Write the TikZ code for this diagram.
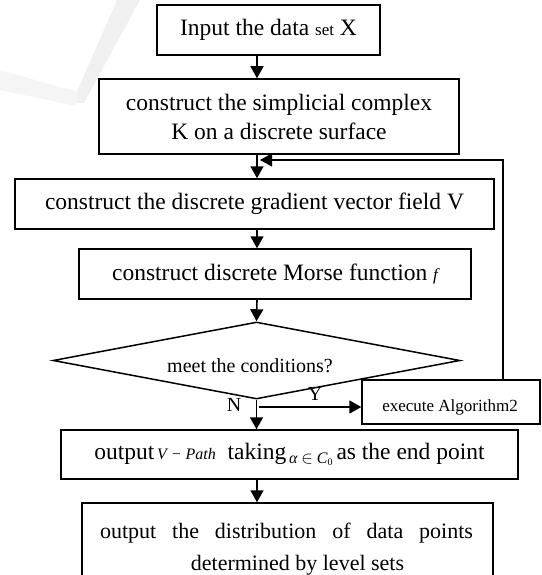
\documentclass[tikz,border=0pt]{standalone}
\usepackage{fontspec}
\setmainfont{Liberation Serif}
\usetikzlibrary{arrows.meta,shapes.geometric}

\tikzset{
  box/.style={draw, line width=1.5pt, inner sep=0pt, align=center,
    font=\fontsize{23.5}{29}\selectfont},
  plain/.style={inner sep=0pt, align=center, font=\fontsize{23.5}{29}\selectfont},
  arr/.style={line width=1.6pt, -{Triangle[length=12pt,width=13pt]}},
  fback/.style={line width=1.3pt, -{Triangle[length=12pt,width=13pt]}}
}

\begin{document}
\begin{tikzpicture}[x=1pt,y=-1pt]
\useasboundingbox (0,0) rectangle (541,575);
\clip (0,0) rectangle (541,575);

% faint check-mark logo in the background
\fill[black!6] (117,0) -- (140,0) -- (84,103) -- (72,103) -- cycle;
\fill[black!4] (0,70) -- (78,92) -- (76,106) -- (0,90) -- cycle;

% process boxes
\node[box, minimum width=223pt, minimum height=50pt] (b1) at (268.5,30)
  {Input the data {\fontsize{17}{20}\selectfont set} X};
\node[box, minimum width=360pt, minimum height=75pt] (b2) at (279,116.5)
  {construct the simplicial complex\\K on a discrete surface};
\node[box, minimum width=479pt, minimum height=50pt] (b3) at (254.5,204)
  {construct the discrete gradient vector field V};
\node[box, minimum width=392pt, minimum height=50pt] (b4) at (275,274)
  {construct discrete Morse function {\fontsize{17}{20}\selectfont\itshape f}};

% decision
\node[diamond, draw, line width=1.5pt, inner sep=0pt, aspect=5.3,
  minimum width=407pt, minimum height=77pt] (d) at (256.5,360.5) {};
\node[plain, font=\fontsize{20}{24}\selectfont] (dt) at (250,366) {meet the conditions?};

% side box
\node[draw, line width=1.3pt, inner sep=0pt, minimum width=178pt, minimum height=44pt]
  (ex) at (451,402) {};
\node[plain, font=\fontsize{17}{20}\selectfont] (ext) at (450,407) {execute Algorithm2};

% output boxes
\node[box, minimum width=457pt, minimum height=49pt] (b5) at (289.5,454.5)
  {output{\fontsize{16}{18}\selectfont\itshape\,V − Path}\ \ taking\raisebox{-4pt}{\fontsize{16}{18}\selectfont\,\itshape α $\in$ C\raisebox{-2pt}{\fontsize{10}{10}\selectfont\upshape 0}}\,as the end point};
\node[box, minimum width=411pt, minimum height=100pt] (b6) at (287.5,553) {};
\node[plain, anchor=base, font=\fontsize{22}{27}\selectfont] (b6a) at (286.5,538)
  {\makebox[373pt][s]{output the distribution of data points}};
\node[plain, anchor=base, font=\fontsize{22}{27}\selectfont] (b6b) at (297.5,570)
  {determined by level sets};

% labels of the branches
\node[plain, font=\fontsize{20}{24}\selectfont] (ln) at (234,405) {N};
\node[plain, font=\fontsize{20}{24}\selectfont] (ly) at (315,394) {Y};

% main flow
\coordinate (ax) at (257,0);
\draw[arr] (b1.south -| ax) -- (b2.north -| ax);
\draw[arr] (b2.south -| ax) -- (b3.north -| ax);
\draw[arr] (b3.south -| ax) -- (b4.north -| ax);
\draw[arr] (b4.south -| ax) -- (d.north);
\draw[arr] (d.south) -- (b5.north -| d.south);
\draw[arr] (b5.south -| ax) -- (b6.north -| ax);

% Y branch and loop back
\coordinate (yb) at (259,407);
\draw[arr] (yb) -- (ex.west |- yb);
\coordinate (lp) at (503,160);
\coordinate (lpend) at (260,160);
\draw[fback] (ex.north -| lp) -- (lp) -- (lpend);
\end{tikzpicture}
\end{document}
